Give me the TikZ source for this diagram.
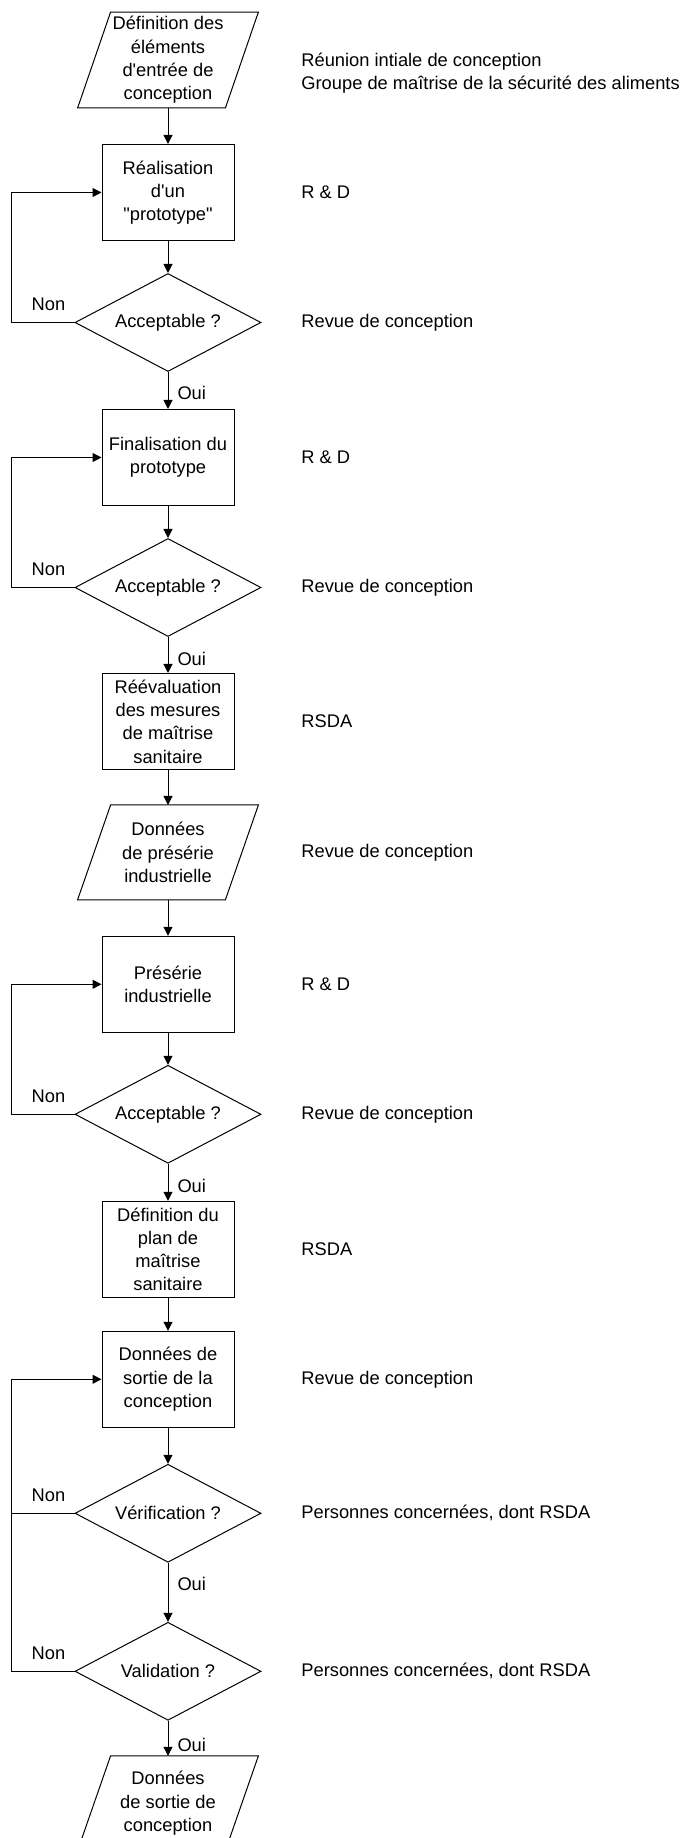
\documentclass[tikz,border=0pt]{standalone}
\usepackage{fontspec}
\setmainfont{Liberation Sans}[Ligatures=TeXOff]
\usepackage{tikz}
\usetikzlibrary{arrows.meta, positioning, shapes.geometric}

\begin{document}
\begin{tikzpicture}[
  font=\fontsize{9.15pt}{11.65pt}\selectfont,
  base/.style={draw, line width=0.5pt, align=center, inner sep=2pt},
  box/.style={base, rectangle, minimum width=66pt, minimum height=48pt},
  check/.style={base, diamond, aspect=1.9, minimum width=93pt, minimum height=49pt},
  data/.style={align=center, inner sep=2pt, minimum width=90pt, minimum height=47pt,
    append after command={\pgfextra{\draw[line width=0.5pt] (\tikzlastnode.south west) -- ([xshift=-16.5pt]\tikzlastnode.south east) -- (\tikzlastnode.north east) -- ([xshift=16.5pt]\tikzlastnode.north west) -- cycle;}}},
  note/.style={anchor=west, align=left, inner sep=0pt},
  lbl/.style={inner sep=1pt},
  line/.style={-{Triangle[length=4.5pt, width=4.5pt]}, line width=0.5pt}
]
\useasboundingbox (0,0) rectangle (341.5pt,-919pt);

% Loop column and notes column
\coordinate (loopx) at (5.5pt,0);
\coordinate (col) at (150.5pt,0);

% Design inputs and prototype
\node[data] (in) at (84pt,-30pt) {Définition des\\éléments\\d'entrée de\\conception};
\node[box, below=18pt of in] (proto) {Réalisation\\d'un\\"prototype"};
\node[check, below=16pt of proto] (acc1) {Acceptable ?};
\node[box, below=18.5pt of acc1] (final) {Finalisation du\\prototype};
\node[check, below=16pt of final] (acc2) {Acceptable ?};

% Sanitary measures and pre-series
\node[box, below=18pt of acc2] (reeval) {Réévaluation\\des mesures\\de maîtrise\\sanitaire};
\node[data, below=17.5pt of reeval] (preser) {Données\\de présérie\\industrielle};
\node[box, below=18pt of preser] (serie) {Présérie\\industrielle};
\node[check, below=16pt of serie] (acc3) {Acceptable ?};

% Plan and design outputs
\node[box, below=18.5pt of acc3] (plan) {Définition du\\plan de\\maîtrise\\sanitaire};
\node[box, below=16.5pt of plan] (out) {Données de\\sortie de la\\conception};
\node[check, below=18pt of out] (verif) {Vérification ?};
\node[check, below=29.5pt of verif] (valid) {Validation ?};
\node[data, below=17.5pt of valid] (sortie) {Données\\de sortie de\\conception};

% Who is involved
\node[note, yshift=-6.5pt] (n0) at (col |- in) {Réunion intiale de conception\\Groupe de maîtrise de la sécurité des aliments};
\node[note] (n1) at (col |- proto) {R \& D};
\node[note] (n2) at (col |- acc1) {Revue de conception};
\node[note] (n3) at (col |- final) {R \& D};
\node[note] (n4) at (col |- acc2) {Revue de conception};
\node[note] (n5) at (col |- reeval) {RSDA};
\node[note] (n6) at (col |- preser) {Revue de conception};
\node[note] (n7) at (col |- serie) {R \& D};
\node[note] (n8) at (col |- acc3) {Revue de conception};
\node[note] (n9) at (col |- plan) {RSDA};
\node[note] (n10) at (col |- out) {Revue de conception};
\node[note] (n11) at (col |- verif) {Personnes concernées, dont RSDA};
\node[note] (n12) at (col |- valid) {Personnes concernées, dont RSDA};

% Main flow
\draw[line] (in) -- (proto);
\draw[line] (proto) -- (acc1);
\draw[line] (acc1) -- node[lbl, right=3.5pt, pos=0.57] (oui1) {Oui} (final);
\draw[line] (final) -- (acc2);
\draw[line] (acc2) -- node[lbl, right=3.5pt, pos=0.6] (oui2) {Oui} (reeval);
\draw[line] (reeval) -- (preser);
\draw[line] (preser) -- (serie);
\draw[line] (serie) -- (acc3);
\draw[line] (acc3) -- node[lbl, right=3.5pt, pos=0.6] (oui3) {Oui} (plan);
\draw[line] (plan) -- (out);
\draw[line] (out) -- (verif);
\draw[line] (verif) -- node[lbl, right=3.5pt, pos=0.36] (oui4) {Oui} (valid);
\draw[line] (valid) -- node[lbl, right=3.5pt, pos=0.69] (oui5) {Oui} (sortie);

% Loops back (Non)
\draw[line] (acc1.west) -- (acc1.west -| loopx) |- (proto.west);
\draw[line] (acc2.west) -- (acc2.west -| loopx) |- (final.west);
\draw[line] (acc3.west) -- (acc3.west -| loopx) |- (serie.west);
\draw (verif.west) -- (verif.west -| loopx);
\draw[line] (valid.west) -- (valid.west -| loopx) |- (out.west);
\node[lbl] (non1) at ([xshift=-13pt, yshift=9pt]acc1.west) {Non};
\node[lbl] (non2) at ([xshift=-13pt, yshift=9pt]acc2.west) {Non};
\node[lbl] (non3) at ([xshift=-13pt, yshift=9pt]acc3.west) {Non};
\node[lbl] (non4) at ([xshift=-13pt, yshift=9pt]verif.west) {Non};
\node[lbl] (non5) at ([xshift=-13pt, yshift=9pt]valid.west) {Non};

\end{tikzpicture}
\end{document}
